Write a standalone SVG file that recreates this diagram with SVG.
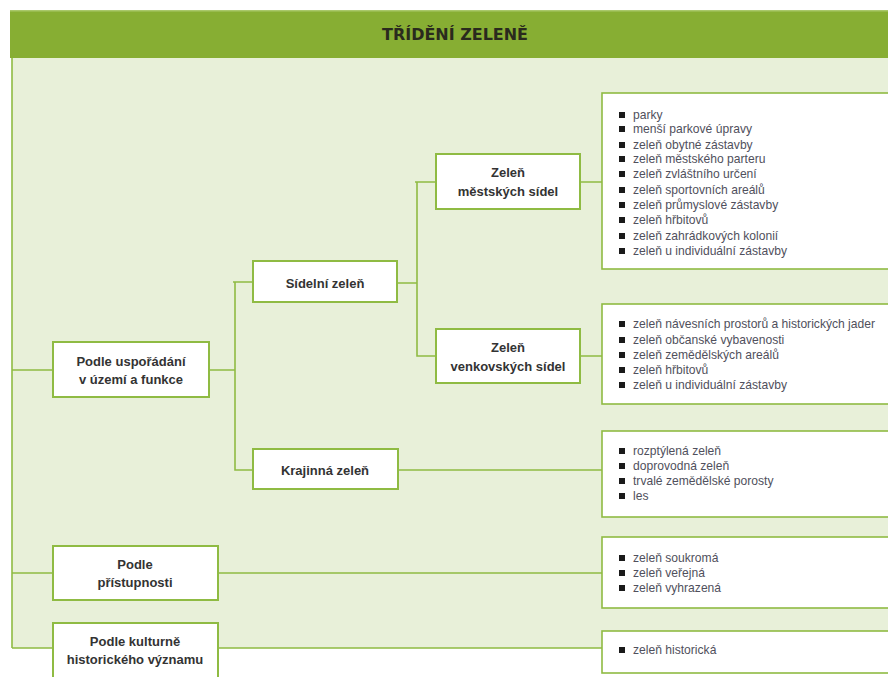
<svg xmlns="http://www.w3.org/2000/svg" width="888" height="677" viewBox="0 0 888 677">
<style>
.node{fill:#fff;stroke:#8fbb43;stroke-width:2}
.lst{fill:#fff;stroke:#8fbb43;stroke-width:1.6}
.conn{stroke:#8fbb43;stroke-width:1.6;fill:none}
.lbl{font-family:"Liberation Sans",Arial,sans-serif;font-size:13px;font-weight:bold;fill:#333;text-anchor:middle}
.it{font-family:"Liberation Sans",Arial,sans-serif;font-size:12.1px;fill:#50505c}
.b{fill:#1a1a1a}
</style>
<defs>
<rect id="bul" width="6" height="6" class="b"/>
</defs>
<rect x="0" y="0" width="888" height="677" fill="#fff"/>
<rect x="12" y="58" width="876" height="590" fill="#e8f0d9"/>
<rect x="10" y="10" width="878" height="48" fill="#87ae33"/>
<rect x="10" y="10" width="878" height="1.5" fill="#a9c86a"/>
<text x="455" y="40" font-family="'DejaVu Sans Condensed','DejaVu Sans',sans-serif" font-size="16" font-weight="bold" fill="#2a2a1e" text-anchor="middle" textLength="146" lengthAdjust="spacingAndGlyphs">TŘÍDĚNÍ ZELENĚ</text>

<g id="connectors">
<path class="conn" d="M12 58 V648"/>
<path class="conn" d="M12 370 H53 M209 370 H235 M233 282 H253 M235 282 V470 H253"/>
<path class="conn" d="M397 283 H417 M415 182 H436 M417 182 V356 H436"/>
<path class="conn" d="M580 182 H602 M580 356 H602 M398 470 H602"/>
<path class="conn" d="M12 573 H53 M218 573 H602"/>
<path class="conn" d="M12 648 H53 M218 648 H602"/>
</g>

<g id="n-usporadani">
<rect class="node" x="53" y="342" width="156" height="55"/>
<text class="lbl" x="131" y="366">Podle uspořádání</text>
<text class="lbl" x="131" y="384">v území a funkce</text>
</g>
<g id="n-sidelni">
<rect class="node" x="253" y="261" width="144" height="41"/>
<text class="lbl" x="325" y="288">Sídelní zeleň</text>
</g>
<g id="n-mestskych">
<rect class="node" x="436" y="154" width="144" height="55"/>
<text class="lbl" x="508" y="177">Zeleň</text>
<text class="lbl" x="508" y="196">městských sídel</text>
</g>
<g id="n-venkovskych">
<rect class="node" x="436" y="329" width="144" height="54"/>
<text class="lbl" x="508" y="352">Zeleň</text>
<text class="lbl" x="508" y="371">venkovských sídel</text>
</g>
<g id="n-krajinna">
<rect class="node" x="253" y="449" width="145" height="40"/>
<text class="lbl" x="325" y="475">Krajinná zeleň</text>
</g>
<g id="n-pristupnosti">
<rect class="node" x="53" y="546" width="165" height="54"/>
<text class="lbl" x="135" y="569">Podle</text>
<text class="lbl" x="135" y="587">přístupnosti</text>
</g>
<g id="n-kulturne">
<rect class="node" x="53" y="623" width="165" height="60"/>
<text class="lbl" x="135" y="646">Podle kulturně</text>
<text class="lbl" x="135" y="664">historického významu</text>
</g>

<g id="l-mestskych">
<rect class="lst" x="602" y="93" width="290" height="176"/>
<g transform="translate(619,0)">
<use href="#bul" y="112"/><use href="#bul" y="126"/><use href="#bul" y="142"/><use href="#bul" y="156"/><use href="#bul" y="171"/><use href="#bul" y="187"/><use href="#bul" y="202"/><use href="#bul" y="217"/><use href="#bul" y="233"/><use href="#bul" y="248"/>
</g>
<text class="it" x="633" y="119">parky</text>
<text class="it" x="633" y="133">menší parkové úpravy</text>
<text class="it" x="633" y="149">zeleň obytné zástavby</text>
<text class="it" x="633" y="163">zeleň městského parteru</text>
<text class="it" x="633" y="178">zeleň zvláštního určení</text>
<text class="it" x="633" y="194">zeleň sportovních areálů</text>
<text class="it" x="633" y="209">zeleň průmyslové zástavby</text>
<text class="it" x="633" y="224">zeleň hřbitovů</text>
<text class="it" x="633" y="240">zeleň zahrádkových kolonií</text>
<text class="it" x="633" y="255">zeleň u individuální zástavby</text>
</g>

<g id="l-venkovskych">
<rect class="lst" x="602" y="304" width="290" height="100"/>
<g transform="translate(619,0)">
<use href="#bul" y="321"/><use href="#bul" y="337"/><use href="#bul" y="352"/><use href="#bul" y="367"/><use href="#bul" y="382"/>
</g>
<text class="it" x="633" y="328">zeleň návesních prostorů a historických jader</text>
<text class="it" x="633" y="344">zeleň občanské vybavenosti</text>
<text class="it" x="633" y="359">zeleň zemědělských areálů</text>
<text class="it" x="633" y="374">zeleň hřbitovů</text>
<text class="it" x="633" y="389">zeleň u individuální zástavby</text>
</g>

<g id="l-krajinna">
<rect class="lst" x="602" y="431" width="290" height="86"/>
<g transform="translate(619,0)">
<use href="#bul" y="448"/><use href="#bul" y="463"/><use href="#bul" y="478"/><use href="#bul" y="493"/>
</g>
<text class="it" x="633" y="455">rozptýlená zeleň</text>
<text class="it" x="633" y="470">doprovodná zeleň</text>
<text class="it" x="633" y="485">trvalé zemědělské porosty</text>
<text class="it" x="633" y="500">les</text>
</g>

<g id="l-pristupnosti">
<rect class="lst" x="602" y="537" width="290" height="71"/>
<g transform="translate(619,0)">
<use href="#bul" y="555"/><use href="#bul" y="570"/><use href="#bul" y="585"/>
</g>
<text class="it" x="633" y="562">zeleň soukromá</text>
<text class="it" x="633" y="577">zeleň veřejná</text>
<text class="it" x="633" y="592">zeleň vyhrazená</text>
</g>

<g id="l-kulturne">
<rect class="lst" x="602" y="631" width="290" height="42"/>
<use href="#bul" x="619" y="647"/>
<text class="it" x="633" y="654">zeleň historická</text>
</g>
</svg>
